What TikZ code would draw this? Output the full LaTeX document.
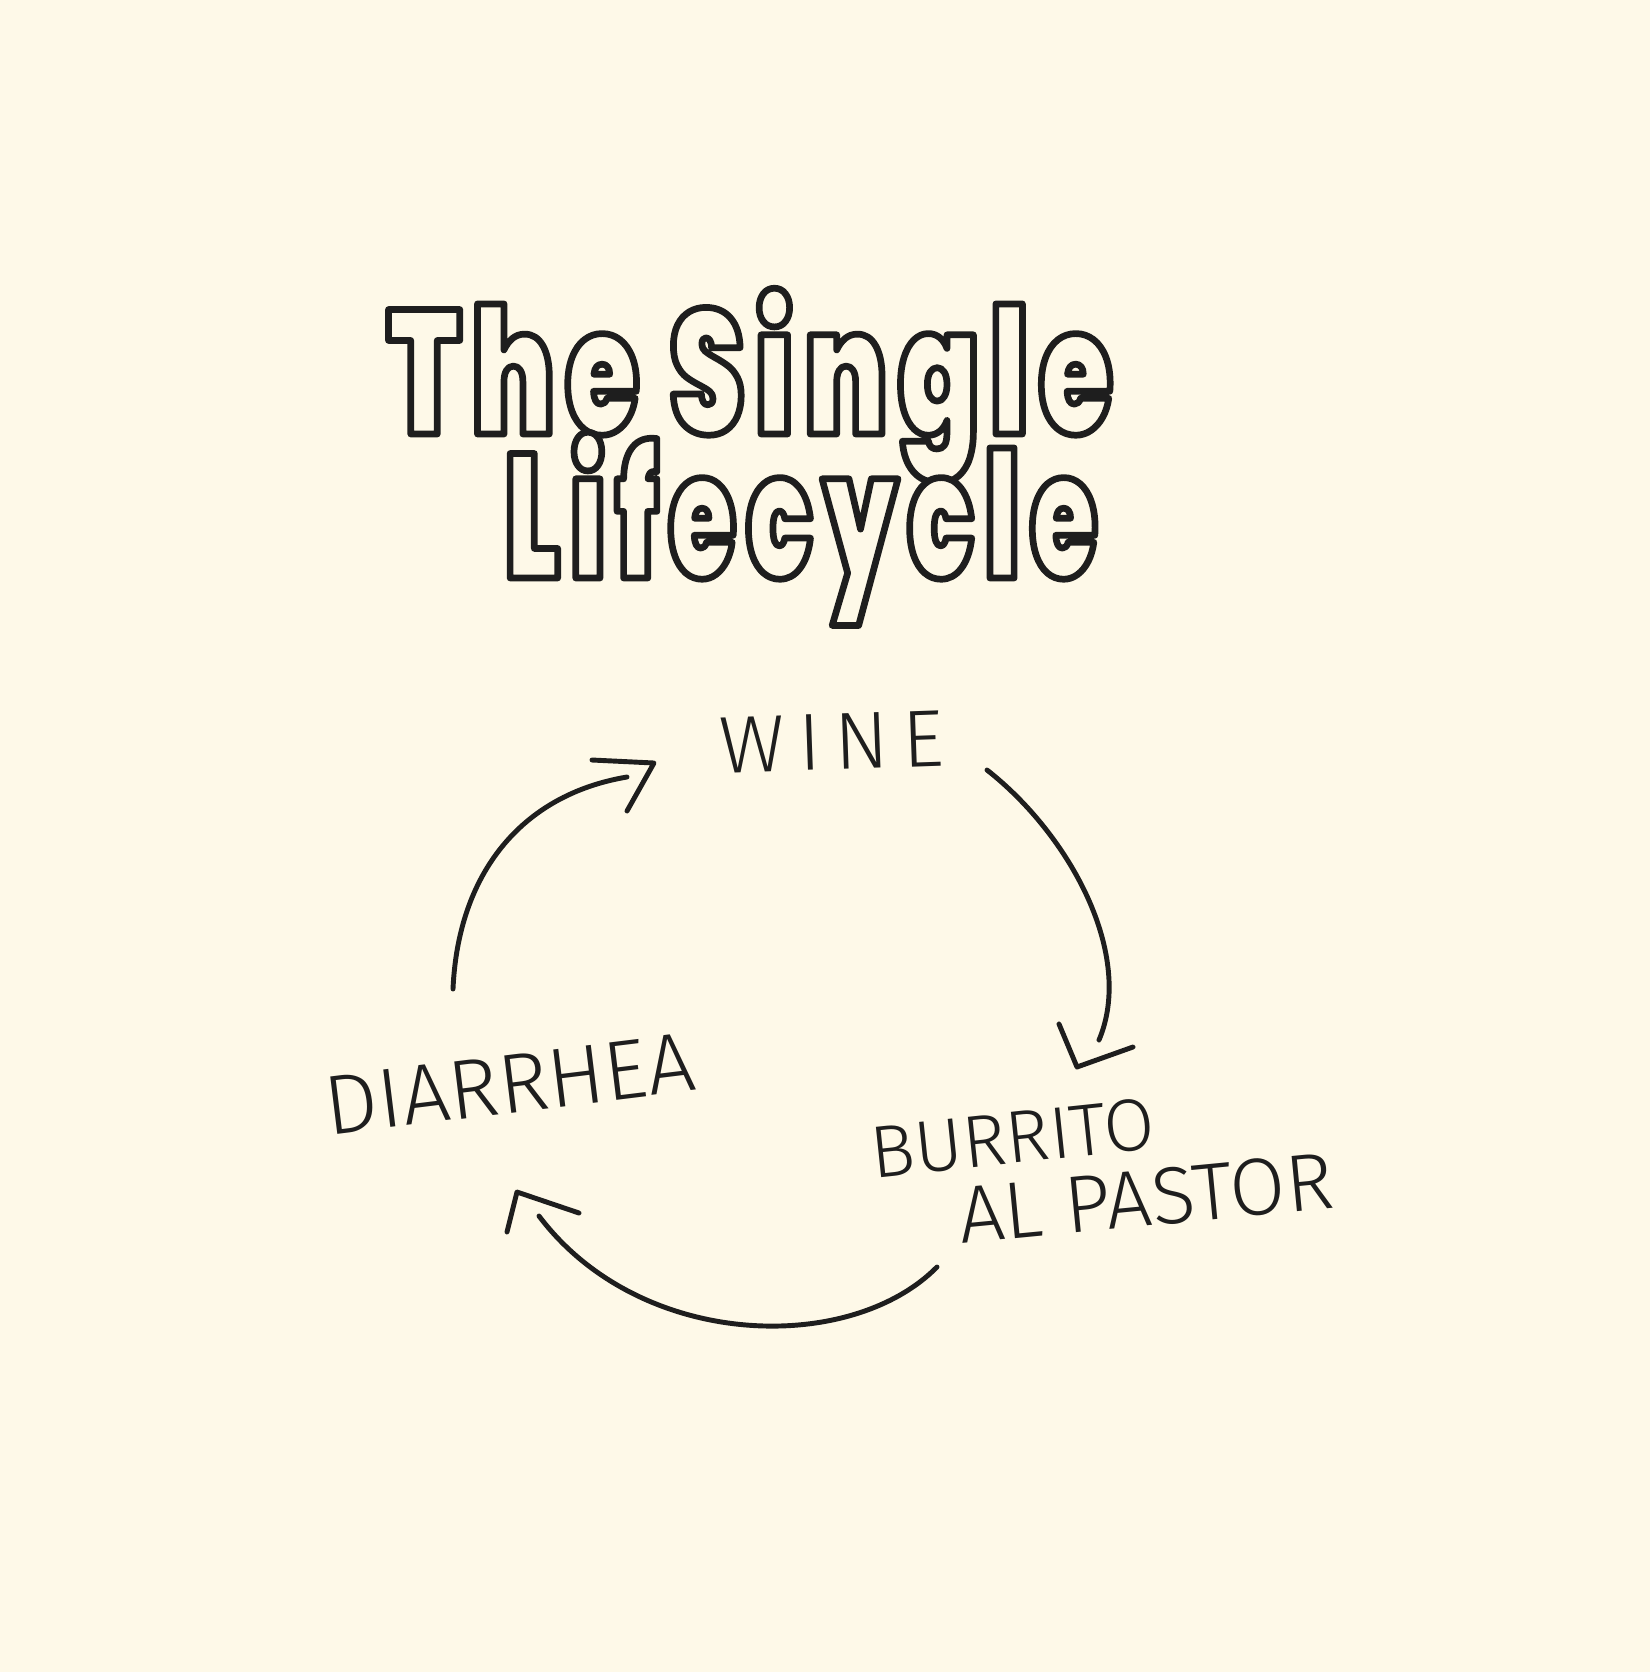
\documentclass[tikz,border=0pt]{standalone}
\usepackage{fontspec}
\newfontfamily\bubfontA{Poppins Black}[FakeStretch=0.68,LetterSpace=6]
\newfontfamily\bubfontB{Poppins Black}[FakeStretch=0.62,LetterSpace=6]
\newfontfamily\handfont{Fira Sans Light}
\definecolor{bg}{HTML}{FEF9E8}
\definecolor{ink}{HTML}{1E1E1E}
% outlined text: fill in background colour, stroke in ink
\newcommand\outlined[1]{\special{pdf:literal direct 2 Tr 1.9 w 1 j 1 J 0.118 0.118 0.118 RG}#1\special{pdf:literal direct 0 Tr}}
\begin{document}
\begin{tikzpicture}[x=0.01cm,y=-0.01cm,
  bubtxt/.style={inner sep=0pt,anchor=base,text=bg},
  hand/.style={inner sep=0pt,text=ink,font=\handfont\fontsize{23}{26}\selectfont},
  conn/.style={draw=ink,line width=1.4pt,line cap=round,line join=round}]
\fill[bg] (0,0) rectangle (1650,1672);
\useasboundingbox (0,0) rectangle (1650,1672);
% title
\node[bubtxt,font=\bubfontA\fontsize{50}{54}\selectfont] (title1) at (750,434) {\outlined{The Single}};
\node[bubtxt,font=\bubfontB\fontsize{50}{54}\selectfont] (title2) at (801,578) {\outlined{Lifecycle}};
% labels
\node[hand,rotate=2] (wine) at (832,742) {W\,I\,N\,E};
\node[hand,rotate=7,font=\handfont\fontsize{24}{27}\selectfont] (diarrhea) at (510,1084) {DIARRHEA};
\node[hand,rotate=6,font=\handfont\fontsize{21}{24}\selectfont] (burrito) at (1013,1138) {BURRITO};
\node[hand,rotate=5.5] (alpastor) at (1146,1198) {AL PASTOR};
% arrow 1: diarrhea -> wine
\coordinate (a1s) at (453,989);
\coordinate (a1e) at (627,777);
\draw[conn] (a1s) .. controls (458,875) and (520,795) .. (a1e);
\coordinate (h1a) at (592,760);
\coordinate (h1t) at (654,763);
\coordinate (h1b) at (627,811);
\draw[conn] (h1a) -- (h1t) -- (h1b);
% arrow 2: wine -> burrito
\coordinate (a2s) at (987,770);
\coordinate (a2e) at (1099,1040);
\draw[conn] (a2s) .. controls (1070,835) and (1135,955) .. (a2e);
\coordinate (h2a) at (1059,1024);
\coordinate (h2t) at (1077,1067);
\coordinate (h2b) at (1133,1047);
\draw[conn] (h2a) -- (h2t) -- (h2b);
% arrow 3: burrito -> diarrhea
\coordinate (a3s) at (937,1267);
\coordinate (a3e) at (539,1216);
\draw[conn] (a3s) .. controls (850,1355) and (640,1350) .. (a3e);
\coordinate (h3a) at (507,1232);
\coordinate (h3t) at (517,1192);
\coordinate (h3b) at (579,1213);
\draw[conn] (h3a) -- (h3t) -- (h3b);
\end{tikzpicture}
\end{document}
